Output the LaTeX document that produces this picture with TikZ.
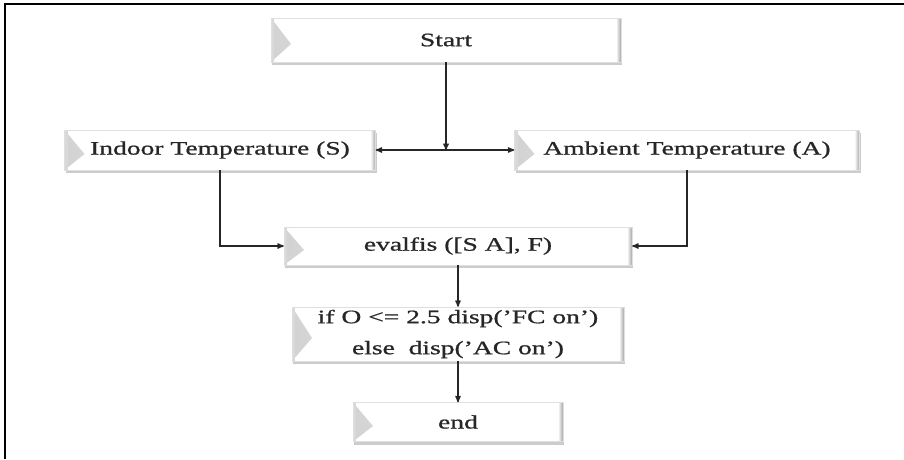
\documentclass[tikz,border=0pt]{standalone}
\usepackage{fontspec}
\setmainfont{Liberation Serif}[FakeStretch=1.45,FakeBold=0.9]
\usetikzlibrary{arrows,shadows}

\tikzset{
  flowbox/.style={draw=gray!25, fill=white, minimum height=40pt, inner sep=2pt,
    font=\fontsize{19}{23}\selectfont, text=black!85,
    drop shadow={shadow xshift=1pt, shadow yshift=-3pt, opacity=0.4},
    path picture={
      \shade[left color=gray!35, right color=white] (path picture bounding box.north west)
        -- ([xshift=20pt,yshift=-4pt]path picture bounding box.west)
        -- (path picture bounding box.south west) -- cycle;
      \fill[gray!30] (path picture bounding box.north west)
        rectangle ([xshift=3pt]path picture bounding box.south west);
      \shade[left color=gray!15, right color=gray!70] ([xshift=-4pt]path picture bounding box.north east)
        rectangle (path picture bounding box.south east);
    }},
  link/.style={-stealth', line width=1.3pt, black!85}
}

\begin{document}
\begin{tikzpicture}[x=1pt,y=-1pt]

        \useasboundingbox (0,0) rectangle (904,459);

        %===========================
        % Frame
        %===========================

        \draw[line width=2pt] (5,459) -- (5,4) -- (904,4);

        %===========================
        % Boxes
        %===========================

        \node (St) at (446,40) [flowbox, minimum width=350pt, minimum height=44pt]{Start};
        \node (S) at (220,150) [flowbox, minimum width=311pt]{Indoor Temperature (S)};
        \node (A) at (687,150) [flowbox, minimum width=345pt]{Ambient Temperature (A)};
        \node (E) at (458,246) [flowbox, minimum width=348pt, minimum height=38pt]{evalfis ([S A], F)};
        \node (I) at (458,334) [flowbox, minimum width=332pt, minimum height=54pt, align=center]
            {if O <= 2.5 disp('FC on')\\[8pt] else~~disp('AC on')};
        \node (End) at (458,422) [flowbox, minimum width=210pt, minimum height=39pt]{end};

        %===========================
        % Arrows
        %===========================

        \coordinate (J) at (St |- S);
        \draw[link] (St) -- (J);
        \draw[link] (J) -- (S);
        \draw[link] (J) -- (A);

        \draw[link] (S.south) |- (E.west);
        \draw[link] (A.south) |- (E.east);
        \draw[link] (E) -- (I);
        \draw[link] (I) -- (End);

\end{tikzpicture}
\end{document}
